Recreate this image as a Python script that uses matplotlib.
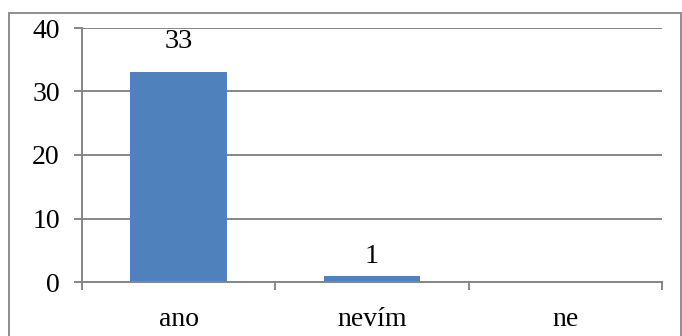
import matplotlib
matplotlib.use("Agg")
import matplotlib.pyplot as plt
from matplotlib.patches import Rectangle

# odpovědi v dotazníku
kategorie = ["ano", "nevím", "ne"]
pocty = [33, 1, 0]
osa_y = [0, 10, 20, 30, 40]

modra = "#4F81BD"
seda = "#868686"

plt.rcParams["font.family"] = ["Liberation Serif", "DejaVu Serif"]

fig = plt.figure(figsize=(6.82, 3.36), dpi=100)
ax = fig.add_axes([82 / 682, 1 - 282 / 336, 580 / 682, 254 / 336])

# rámeček celého grafu
fig.patches.append(Rectangle((9 / 682, -0.05), 672 / 682, 1.05 - 13 / 336,
                             transform=fig.transFigure, fill=False,
                             edgecolor=seda, linewidth=1.3))

x = range(len(kategorie))
ax.bar(x, pocty, width=0.5, color=modra, zorder=3)

# popisky hodnot nad sloupci (nula se nepopisuje)
odsazeni = [13, 5, 5]
for i, v in enumerate(pocty):
    if v > 0:
        ax.annotate(str(v), (i, v), xytext=(0, odsazeni[i]), textcoords="offset points",
                    ha="center", va="bottom", fontsize=20.5)

ax.set_xlim(-0.5, len(kategorie) - 0.5)
ax.set_ylim(0, 40)
ax.set_yticks(osa_y)
ax.set_xticks(list(x))
ax.set_xticklabels(kategorie)
ax.set_xticks([i - 0.5 for i in range(len(kategorie) + 1)], minor=True)

ax.grid(axis="y", color=seda, linewidth=1.4, zorder=0)
for s in ["top", "right"]:
    ax.spines[s].set_visible(False)
for s in ["left", "bottom"]:
    ax.spines[s].set_color(seda)
    ax.spines[s].set_linewidth(1.4)
    ax.spines[s].set_zorder(4)

ax.tick_params(axis="y", length=6, width=1.4, color=seda, labelsize=20, pad=10)
ax.tick_params(axis="x", which="major", length=0, labelsize=20, pad=18)
ax.tick_params(axis="x", which="minor", length=6, width=1.4, color=seda)

fig.savefig("out.png", dpi=100)
